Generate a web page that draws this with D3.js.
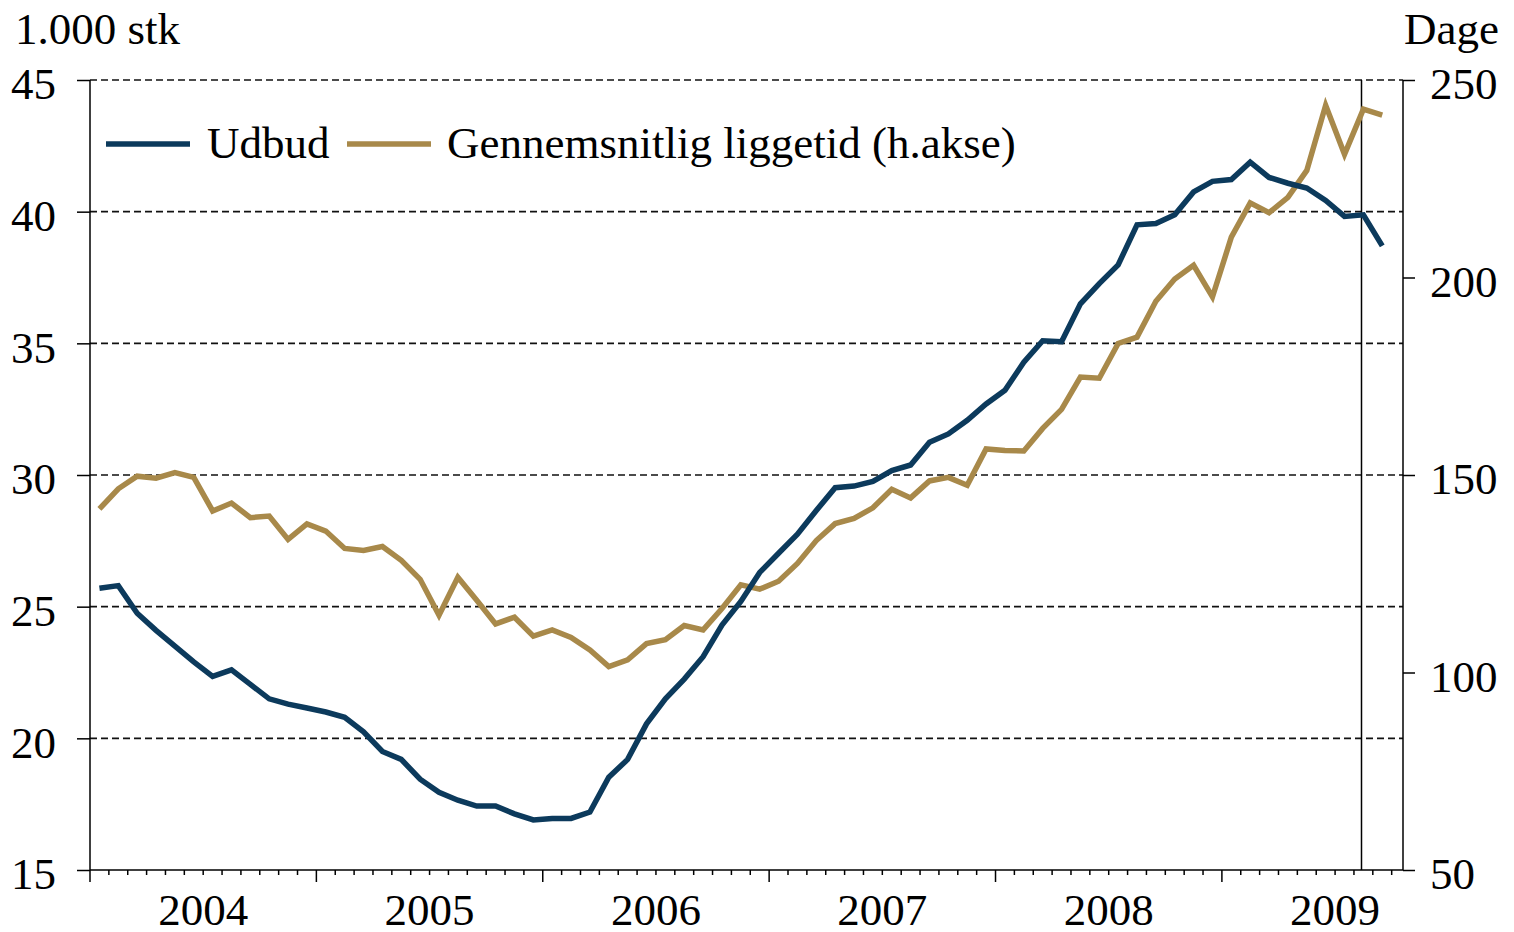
<!DOCTYPE html>
<html>
<head>
<meta charset="utf-8">
<script src="https://cdn.jsdelivr.net/npm/d3@7"></script>
<style>
  body { margin: 0; background: #fff; }
  svg text { font-family: "Liberation Serif", "Times New Roman", serif; font-size: 45px; fill: #000; }
</style>
</head>
<body>
<svg></svg>
<script>
'use strict';
// monthly values, Jan 2004 - Sep 2009
var years = ['2004', '2005', '2006', '2007', '2008', '2009'];
var udbud = [25.7, 25.8, 24.75, 24.1, 23.5, 22.9, 22.35, 22.6, 22.05, 21.5,
  21.3, 21.15, 21.0, 20.8, 20.25, 19.5, 19.2, 18.45, 17.95, 17.65,
  17.43, 17.43, 17.13, 16.9, 16.96, 16.96, 17.2, 18.52, 19.2, 20.55,
  21.5, 22.25, 23.1, 24.3, 25.2, 26.3, 27.03, 27.75, 28.65, 29.52,
  29.58, 29.76, 30.17, 30.38, 31.24, 31.56, 32.08, 32.7, 33.22, 34.28,
  35.1, 35.06, 36.5, 37.27, 37.98, 39.5, 39.55, 39.88, 40.75, 41.15,
  41.22, 41.88, 41.3, 41.08, 40.9, 40.43, 39.82, 39.88, 38.7];
var liggetid = [141.4, 146.5, 149.7, 149.2, 150.6, 149.4, 140.9, 142.9, 139.2, 139.6,
  133.7, 137.6, 135.8, 131.4, 130.9, 131.9, 128.4, 123.6, 114.5, 124.1,
  118.3, 112.3, 114.0, 109.2, 110.8, 108.9, 105.7, 101.5, 103.2, 107.3,
  108.3, 111.9, 110.8, 116.2, 122.2, 121.1, 123.1, 127.6, 133.4, 137.7,
  139.0, 141.7, 146.4, 144.2, 148.5, 149.4, 147.4, 156.6, 156.2, 156.1,
  161.8, 166.6, 174.8, 174.5, 183.3, 184.9, 194.0, 199.6, 203.1, 195.1,
  210.2, 218.9, 216.4, 220.3, 227.1, 243.6, 231.2, 242.6, 241.1];
var leftTicks = [15, 20, 25, 30, 35, 40, 45];
var rightTicks = [50, 100, 150, 200, 250];
var seriesNames = ['Udbud', 'Gennemsnitlig liggetid (h.akse)'];
var markerMonth = 67.4;

var navy = '#0c3a5c';
var gold = '#a8894a';

var canvasWidth = 1514;
var canvasHeight = 932;
var margin = { top: 80, right: 111, bottom: 62, left: 90 };
var width = canvasWidth - margin.left - margin.right;
var height = canvasHeight - margin.top - margin.bottom;

var svg = d3.select('svg')
  .attr('width', canvasWidth)
  .attr('height', canvasHeight);

var xScale = d3.scaleLinear().domain([0, 69.6]).range([0, width]);
var yLeft = d3.scaleLinear().domain([15, 45]).range([height, 0]);
var yRight = d3.scaleLinear().domain([50, 250]).range([height, 0]);

var g = svg.append('g')
  .attr('transform', 'translate(' + margin.left + ',' + margin.top + ')');

// dashed grid
g.selectAll('.grid')
  .data(leftTicks.filter(function(d) { return d > 15; }))
  .enter()
  .append('line')
  .attr('x1', 0)
  .attr('x2', width)
  .attr('y1', function(d) { return yLeft(d); })
  .attr('y2', function(d) { return yLeft(d); })
  .attr('stroke', '#111')
  .attr('stroke-width', 1.7)
  .attr('stroke-dasharray', '7,4');

// axes
var leftAxis = g.append('g')
  .call(d3.axisLeft(yLeft).tickValues(leftTicks).tickSize(13).tickPadding(21));
var rightAxis = g.append('g')
  .attr('transform', 'translate(' + width + ',0)')
  .call(d3.axisRight(yRight).tickValues(rightTicks).tickSize(12).tickPadding(15));

[leftAxis, rightAxis].forEach(function(a) {
  a.select('.domain').remove();
  a.selectAll('line').attr('stroke', '#000').attr('stroke-width', 1.5);
  a.selectAll('text').attr('dy', '0.42em').style('font-size', '45px')
    .style('font-family', '"Liberation Serif", "Times New Roman", serif');
});

g.append('line')
  .attr('x1', 0).attr('x2', 0).attr('y1', 0).attr('y2', height + 12)
  .attr('stroke', '#000').attr('stroke-width', 1.5);
g.append('line')
  .attr('x1', width).attr('x2', width).attr('y1', 0).attr('y2', height)
  .attr('stroke', '#000').attr('stroke-width', 1.5);
g.append('line')
  .attr('x1', 0).attr('x2', width).attr('y1', height).attr('y2', height)
  .attr('stroke', '#000').attr('stroke-width', 1.5);

// month ticks, longer at year starts
var monthTicks = d3.range(1, 70).filter(function(m) { return xScale(m) <= width; });
g.selectAll('.mtick')
  .data(monthTicks)
  .enter()
  .append('line')
  .attr('x1', function(d) { return xScale(d); })
  .attr('x2', function(d) { return xScale(d); })
  .attr('y1', height)
  .attr('y2', function(d) { return height + (d % 12 === 0 ? 12 : 5); })
  .attr('stroke', '#000')
  .attr('stroke-width', 1.5);

g.selectAll('.year')
  .data(years)
  .enter()
  .append('text')
  .attr('x', function(d, i) { return xScale(i * 12 + 6); })
  .attr('y', height + 55)
  .attr('text-anchor', 'middle')
  .text(function(d) { return d; });

// marker line
g.append('line')
  .attr('x1', xScale(markerMonth)).attr('x2', xScale(markerMonth))
  .attr('y1', 0).attr('y2', height)
  .attr('stroke', '#000').attr('stroke-width', 1.5);

// series
var lineLeft = d3.line()
  .x(function(d, i) { return xScale(i + 0.5); })
  .y(function(d) { return yLeft(d); });
var lineRight = d3.line()
  .x(function(d, i) { return xScale(i + 0.5); })
  .y(function(d) { return yRight(d); });

g.append('path')
  .datum(liggetid)
  .attr('d', lineRight)
  .attr('fill', 'none')
  .attr('stroke', gold)
  .attr('stroke-width', 5.5)
  .attr('stroke-linejoin', 'miter');

g.append('path')
  .datum(udbud)
  .attr('d', lineLeft)
  .attr('fill', 'none')
  .attr('stroke', navy)
  .attr('stroke-width', 5.5)
  .attr('stroke-linejoin', 'miter');

// legend
var legend = svg.append('g');
var legendItems = [
  { name: seriesNames[0], color: navy, x: 106, textX: 207 },
  { name: seriesNames[1], color: gold, x: 347, textX: 447 }
];
legendItems.forEach(function(d) {
  legend.append('line')
    .attr('x1', d.x).attr('x2', d.x + 84)
    .attr('y1', 144).attr('y2', 144)
    .attr('stroke', d.color).attr('stroke-width', 5.5);
  legend.append('text')
    .attr('x', d.textX)
    .attr('y', 158)
    .text(d.name);
});

// axis titles
svg.append('text')
  .attr('x', 15)
  .attr('y', 44)
  .text('1.000 stk');
svg.append('text')
  .attr('x', 1499)
  .attr('y', 44)
  .attr('text-anchor', 'end')
  .text('Dage');
</script>
</body>
</html>
